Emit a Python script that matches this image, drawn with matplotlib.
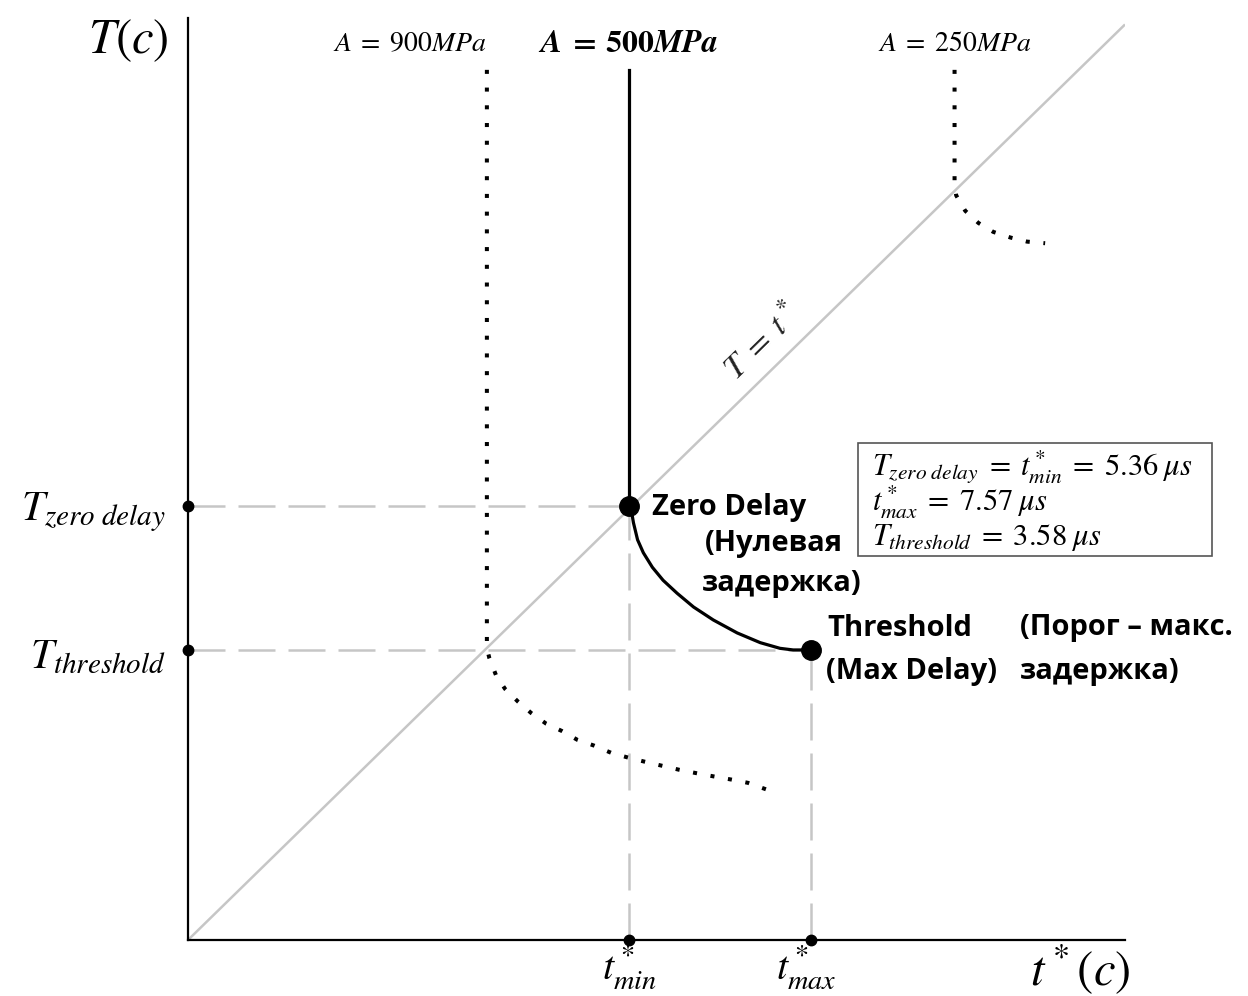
import matplotlib
matplotlib.use("Agg")
import matplotlib.pyplot as plt

plt.rcParams['mathtext.fontset'] = 'stix'

# key times (microseconds)
t_min = 5.36
t_max = 7.57
T_zero = 5.36
T_thr = 3.58
top = 10.74

# A = 500 MPa: delay curve (t*, T) from zero delay to threshold
a500_x = [5.36, 5.38, 5.41, 5.46, 5.53, 5.64, 5.77, 5.94, 6.14, 6.38, 6.67,
          6.95, 7.19, 7.35, 7.57]
a500_y = [5.36, 5.33, 5.15, 4.94, 4.78, 4.60, 4.44, 4.28, 4.11, 3.95, 3.79,
          3.67, 3.60, 3.58, 3.58]

# A = 900 MPa (dotted)
a900_x = [3.63, 3.63, 3.66, 3.74, 3.85, 4.01, 4.17, 4.35, 4.54, 4.73, 4.93,
          5.14, 5.35, 5.55, 5.76, 5.97, 6.17, 6.38, 6.60, 6.80, 7.02]
a900_y = [10.74, 3.60, 3.48, 3.27, 3.10, 2.94, 2.80, 2.67, 2.58, 2.47, 2.40,
          2.31, 2.25, 2.20, 2.15, 2.10, 2.06, 2.02, 1.98, 1.94, 1.86]

# A = 250 MPa (dotted)
a250_x = [9.31, 9.31, 9.33, 9.44, 9.60, 9.78, 9.99, 10.19, 10.41]
a250_y = [10.74, 9.31, 9.19, 9.00, 8.85, 8.74, 8.67, 8.62, 8.60]

W, H = 1248, 996
fig = plt.figure(figsize=(W / 100, H / 100), dpi=100)
ax = fig.add_axes([188 / W, 1 - 940 / H, (1125 - 188) / W, (940 - 18) / H])
ax.set_xlim(0, 11.38)
ax.set_ylim(0, 11.38)
for s in ['top', 'right']:
    ax.spines[s].set_visible(False)
for s in ['left', 'bottom']:
    ax.spines[s].set_linewidth(1.6)
ax.set_xticks([])
ax.set_yticks([])


def px(x, y):
    return x / W, 1 - y / H


gray = '#c6c6c6'
dash = (0, (14.8, 5.2))
dot = (0, (1, 3.4))

# diagonal T = t*
ax.plot([0, 11.38], [0, 11.3], color=gray, lw=1.8, solid_capstyle='butt')

# guide lines
ax.plot([0, t_min], [T_zero, T_zero], color=gray, lw=1.8, linestyle=dash)
ax.plot([0, t_max], [T_thr, T_thr], color=gray, lw=1.8, linestyle=dash)
ax.plot([t_min, t_min], [0, T_zero], color=gray, lw=1.8, linestyle=dash)
ax.plot([t_max, t_max], [0, T_thr], color=gray, lw=1.8, linestyle=dash)

# A = 500 MPa
ax.plot([t_min, t_min], [top, T_zero], color='black', lw=2.3)
ax.plot(a500_x, a500_y, color='black', lw=2.3, solid_joinstyle='round')

# other amplitudes
ax.plot(a900_x, a900_y, color='black', lw=2.9, linestyle=dot, dash_capstyle='butt')
ax.plot(a250_x, a250_y, color='black', lw=2.9, linestyle=dot, dash_capstyle='butt')

# markers
ax.plot([t_min, t_max], [T_zero, T_thr], 'o', color='black', ms=14, clip_on=False)
ax.plot([0, 0, t_min, t_max], [T_zero, T_thr, 0, 0], 'o', color='black', ms=7.5,
        clip_on=False)

# axis titles
fig.text(*px(128, 40), r'$T(c)$', fontsize=35, ha='center', va='center')
fig.text(*px(1080, 970), r'$t^*(c)$', fontsize=35, ha='center', va='center')

# amplitude labels
fig.text(*px(410, 43), r'$A\;=\;900MPa$', fontsize=20, ha='center', va='center')
fig.text(*px(628, 43), r'$\boldsymbol{A\;=\;500MPa}$', fontsize=23, ha='center', va='center')
fig.text(*px(955, 43), r'$A\;=\;250MPa$', fontsize=20, ha='center', va='center')

# diagonal label
fig.text(*px(762, 342), r'$T\;=\;t^*$', fontsize=24, ha='center', va='center',
         rotation=44.5, color='#222222')

# y labels
fig.text(*px(166, 512), r'$T_{zero\ delay}$', fontsize=30, ha='right', va='center')
fig.text(*px(166, 656), r'$T_{threshold}$', fontsize=30, ha='right', va='center')

# x labels
fig.text(*px(629, 968), r'$t^*_{min}$', fontsize=29, ha='center', va='center')
fig.text(*px(806, 968), r'$t^*_{max}$', fontsize=29, ha='center', va='center')

# point annotations
bold = dict(fontsize=21, fontweight='bold', family='Open Sans', va='center')
fig.text(*px(652, 508), 'Zero Delay', **bold)
fig.text(*px(705, 543), '(Нулевая', **bold)
fig.text(*px(702, 583), 'задержка)', **bold)
fig.text(*px(827, 628), 'Threshold', **bold)
fig.text(*px(826, 672), '(Max Delay)', **bold)
fig.text(*px(1020, 628), '(Порог – макс.', **bold)
fig.text(*px(1020, 672), 'задержка)', **bold)

# info box
box_lines = [r'$T_{zero\ delay}\;=\;t^*_{min}\;=\;5.36\;\mu s$',
             r'$t^*_{max}\;=\;7.57\;\mu s$',
             r'$T_{threshold}\;=\;3.58\;\mu s$']
fig.patches.append(plt.Rectangle(px(858, 556), (1212 - 858) / W, (556 - 443) / H,
                                 transform=fig.transFigure, fill=False,
                                 edgecolor='#555555', lw=1.2))
for i, line in enumerate(box_lines):
    fig.text(*px(872, 467 + 35 * i), line, fontsize=22, ha='left', va='center')

fig.savefig('out.png', dpi=100)
